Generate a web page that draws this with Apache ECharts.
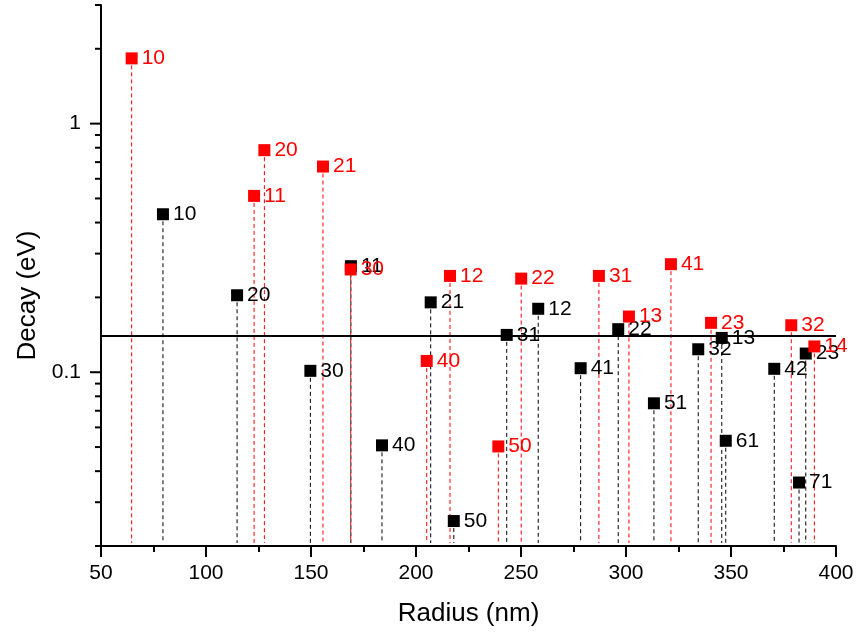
<!DOCTYPE html>
<html>
<head>
<meta charset="utf-8">
<script src="https://cdn.jsdelivr.net/npm/echarts@6/dist/echarts.min.js"></script>
<style>
    html, body { margin: 0; padding: 0; background: #fff; }
    #chart { width: 859px; height: 637px; }
</style>
</head>
<body>
<div id="chart"></div>
<script>
'use strict';
// 黑色: [radius, decay, label]
const blackPoints = [
    [79.5, 0.432, '10'],
    [114.8, 0.204, '20'],
    [149.7, 0.1013, '30'],
    [169.0, 0.267, '11'],
    [183.8, 0.0508, '40'],
    [207.0, 0.191, '21'],
    [218.0, 0.0252, '50'],
    [243.2, 0.1413, '31'],
    [258.2, 0.180, '12'],
    [278.4, 0.1038, '41'],
    [296.3, 0.149, '22'],
    [313.3, 0.075, '51'],
    [334.4, 0.1237, '32'],
    [345.6, 0.1374, '13'],
    [347.5, 0.053, '61'],
    [370.6, 0.1032, '42'],
    [382.4, 0.036, '71'],
    [385.6, 0.1189, '23']
];

// 红色
const redPoints = [
    [64.6, 1.83, '10'],
    [122.9, 0.512, '11'],
    [127.8, 0.782, '20'],
    [155.7, 0.672, '21'],
    [168.9, 0.259, '30'],
    [205.1, 0.111, '40'],
    [216.2, 0.244, '12'],
    [239.2, 0.0503, '50'],
    [250.1, 0.238, '22'],
    [287.1, 0.244, '31'],
    [301.4, 0.1675, '13'],
    [321.4, 0.272, '41'],
    [340.5, 0.158, '23'],
    [378.7, 0.1545, '32'],
    [389.7, 0.127, '14']
];

const refLine = 0.142;

const xMin = 50, xMax = 400, xStep = 50;
const yMin = 0.02, yMax = 3;
const yMajorTicks = [0.1, 1];
const yMinorTicks = [0.02, 0.03, 0.04, 0.05, 0.06, 0.07, 0.08, 0.09,
    0.2, 0.3, 0.4, 0.5, 0.6, 0.7, 0.8, 0.9, 2, 3];

const FONT = 'Liberation Sans, Arial, sans-serif';

let myChart = echarts.init(document.getElementById('chart'));

// 画落地虚线
function dropLine(color) {
    return function(params, api) {
        let top = api.coord([api.value(0), api.value(1)]);
        let bottom = api.coord([api.value(0), yMin]);
        return {
            type: 'line',
            shape: { x1: top[0], y1: top[1], x2: bottom[0], y2: bottom[1] - 3 },
            style: { stroke: color, lineWidth: 1, lineDash: [4, 3] }
        };
    };
}

// y轴刻度（对数轴的次刻度自己画）
function yTick(len) {
    return function(params, api) {
        let p = api.coord([xMin, api.value(0)]);
        return {
            type: 'line',
            shape: { x1: p[0] - len, y1: p[1], x2: p[0], y2: p[1] },
            style: { stroke: '#000', lineWidth: 2 }
        };
    };
}

function pointSeries(name, data, color, z) {
    return {
        name: name,
        type: 'scatter',
        data: data,
        symbol: 'rect',
        symbolSize: 12,
        z: z,
        itemStyle: { color: color, opacity: 1 },
        label: {
            show: true,
            position: 'right',
            distance: 4,
            color: color,
            fontSize: 21,
            fontFamily: FONT,
            formatter: function(p) { return p.value[2]; }
        },
        emphasis: { disabled: true }
    };
}

let option = {
    animation: false,
    backgroundColor: '#fff',
    grid: { left: 101, right: 23, top: 5, bottom: 91 },
    xAxis: {
        type: 'value',
        min: xMin,
        max: xMax,
        interval: xStep,
        name: 'Radius (nm)',
        nameLocation: 'middle',
        nameGap: 55,
        nameTextStyle: { fontSize: 26, color: '#000', fontFamily: FONT },
        axisLine: { show: true, onZero: false, lineStyle: { color: '#000', width: 2 } },
        axisTick: { show: true, length: 11, lineStyle: { color: '#000', width: 2 } },
        minorTick: { show: true, splitNumber: 2, length: 6, lineStyle: { color: '#000', width: 2 } },
        axisLabel: { fontSize: 21, color: '#000', fontFamily: FONT, margin: 17 },
        splitLine: { show: false }
    },
    yAxis: {
        type: 'log',
        logBase: 10,
        min: yMin,
        max: yMax,
        name: 'Decay (eV)',
        nameLocation: 'middle',
        nameGap: 60,
        nameTextStyle: { fontSize: 26, color: '#000', fontFamily: FONT, padding: [0, 40, 0, 0] },
        axisLine: { show: true, onZero: false, lineStyle: { color: '#000', width: 2 } },
        axisTick: { show: false },
        axisLabel: {
            fontSize: 21,
            color: '#000',
            fontFamily: FONT,
            margin: 20,
            formatter: function(v) {
                return yMajorTicks.some(function(t) { return Math.abs(t - v) < 1e-9; }) ? String(v) : '';
            }
        },
        splitLine: { show: false }
    },
    series: [
        {
            type: 'custom',
            data: yMajorTicks.map(function(v) { return [v]; }),
            renderItem: yTick(11),
            clip: false,
            silent: true
        },
        {
            type: 'custom',
            data: yMinorTicks.map(function(v) { return [v]; }),
            renderItem: yTick(6),
            clip: false,
            silent: true
        },
        {
            type: 'custom',
            data: blackPoints,
            renderItem: dropLine('#000'),
            silent: true,
            z: 1
        },
        {
            type: 'custom',
            data: redPoints,
            renderItem: dropLine('#ff0000'),
            silent: true,
            z: 1
        },
        {
            type: 'line',
            data: [],
            markLine: {
                silent: true,
                symbol: 'none',
                label: { show: false },
                lineStyle: { color: '#000', width: 2, type: 'solid' },
                data: [{ yAxis: refLine }]
            }
        },
        pointSeries('black', blackPoints, '#000', 3),
        pointSeries('red', redPoints, '#ff0000', 4)
    ]
};

myChart.setOption(option);
</script>
</body>
</html>
